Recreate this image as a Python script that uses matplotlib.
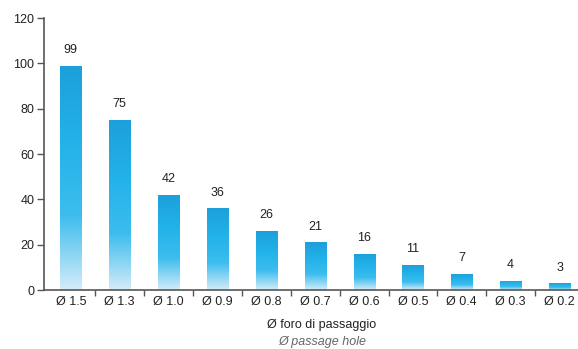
import numpy as np
import matplotlib.pyplot as plt
from matplotlib.colors import LinearSegmentedColormap

plt.rcParams['font.family'] = ['Liberation Sans', 'DejaVu Sans']

labels = ['Ø 1.5', 'Ø 1.3', 'Ø 1.0', 'Ø 0.9', 'Ø 0.8', 'Ø 0.7',
          'Ø 0.6', 'Ø 0.5', 'Ø 0.4', 'Ø 0.3', 'Ø 0.2']
values = [99, 75, 42, 36, 26, 21, 16, 11, 7, 4, 3]

fig = plt.figure(figsize=(5.78, 3.49), dpi=100)
ax = fig.add_axes([0.0761, 0.169, 0.93, 0.779])

cmap = LinearSegmentedColormap.from_list(
    'bar', ['#1d9fdb', '#22b2e9', '#3cbdee', '#d4ecf9'], N=256)
grad = np.linspace(0, 1, 256).reshape(-1, 1)

x = np.arange(len(values))
w = 0.43
bars = ax.bar(x, values, width=w, color='none', edgecolor='none')
for b, v in zip(bars, values):
    x0 = b.get_x()
    im = ax.imshow(grad, cmap=cmap, aspect='auto',
                   extent=[x0, x0 + w, 0, v], origin='upper', zorder=2)
    im.set_clip_path(b)
    ax.annotate(str(v), (b.get_x() + w / 2, v), xytext=(0, 7),
                textcoords='offset points', ha='center', va='bottom',
                fontsize=9, color='#222222')

ax.set_xlim(-0.55, 10.45)
ax.set_ylim(0, 120)
ax.set_yticks(range(0, 121, 20))
ax.set_xticks(x)
ax.set_xticklabels(labels)
ax.set_xticks(np.arange(0.5, 10.5, 1), minor=True)
ax.tick_params(axis='x', which='major', length=0, pad=4, labelsize=9, labelcolor='#222222')
ax.tick_params(axis='x', which='minor', length=4, width=1, color='#555555', direction='out')
ax.tick_params(axis='y', length=5, width=1, color='#555555', labelsize=9,
               labelcolor='#222222', pad=2)

for s in ['top', 'right']:
    ax.spines[s].set_visible(False)
for s in ['left', 'bottom']:
    ax.spines[s].set_color('#555555')
    ax.spines[s].set_linewidth(1.2)

fig.text(0.557, 0.069, 'Ø foro di passaggio', ha='center', va='center',
         fontsize=9, color='#222222')
fig.text(0.557, 0.021, 'Ø passage hole', ha='center', va='center',
         fontsize=9, color='#666666', style='italic')

fig.savefig('out.png', dpi=100)
